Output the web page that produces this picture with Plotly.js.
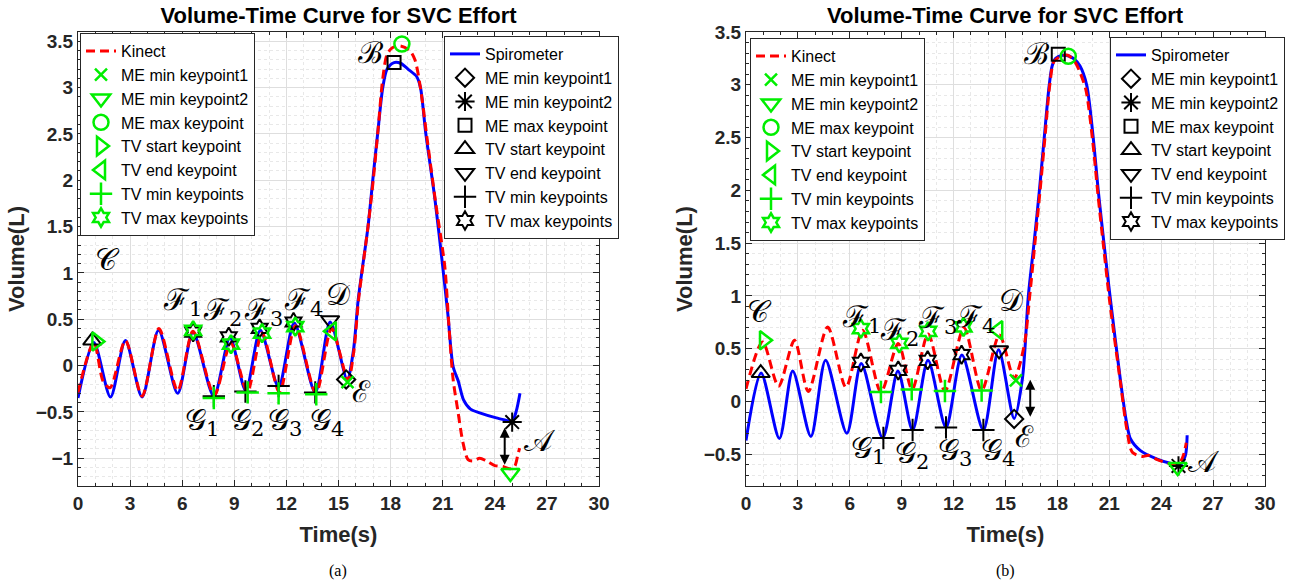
<!DOCTYPE html>
<html><head><meta charset="utf-8">
<script src="https://cdn.plot.ly/plotly-3.0.1.min.js"></script>
<style>html,body{margin:0;padding:0;background:#fff}#chart{width:1304px;height:586px}</style>
</head><body><div id="chart"></div><script>
// ---------- (a) curves ----------
const a_spiro_t = [0, 0.91, 1.87, 2.73, 3.69, 4.64, 5.74, 6.62, 7.82, 8.75, 9.66, 10.5, 11.55, 12.45, 13.66, 14.52, 15.5, 15.85, 16.14, 16.7, 17.0, 17.28, 17.55, 17.8, 18.2, 18.6, 19.0, 19.5, 19.72, 20.03, 20.55, 21.0, 21.3, 21.6, 21.9, 22.2, 22.6, 23.13, 24.09, 24.86, 25.0, 25.24, 25.45];
const a_spiro_v = [-0.35, 0.25, -0.34, 0.27, -0.34, 0.38, -0.30, 0.36, -0.33, 0.30, -0.27, 0.38, -0.23, 0.46, -0.29, 0.47, -0.15, 0.15, 0.72, 1.5, 2.05, 2.55, 3.0, 3.2, 3.27, 3.26, 3.2, 3.12, 3.0, 2.5, 1.8, 1.07, 0.55, -0.01, -0.17, -0.37, -0.47, -0.51, -0.565, -0.60, -0.61, -0.49, -0.3];
const a_kinect_t = [0, 0.91, 1.45, 1.85, 2.73, 3.69, 4.66, 5.74, 6.62, 7.85, 8.8, 9.75, 10.6, 11.6, 12.52, 13.7, 14.6, 15.55, 15.88, 16.16, 16.7, 17.0, 17.28, 17.55, 17.8, 18.1, 18.55, 19.1, 19.4, 19.7, 20.1, 20.6, 21.12, 21.35, 21.6, 21.89, 22.17, 22.46, 22.75, 23.13, 23.52, 24.0, 24.47, 24.86, 25.14, 25.33, 25.43];
const a_kinect_v = [-0.29, 0.25, -0.17, -0.24, 0.27, -0.33, 0.40, -0.27, 0.37, -0.32, 0.24, -0.28, 0.35, -0.29, 0.43, -0.30, 0.40, -0.16, 0.15, 0.72, 1.5, 2.0, 2.55, 3.1, 3.36, 3.43, 3.45, 3.4, 3.3, 3.02, 2.45, 1.75, 1.07, 0.45, -0.15, -0.51, -0.835, -1.015, -1.03, -1.0, -1.03, -1.08, -1.09, -1.115, -1.09, -0.96, -0.89];

// ---------- (a) keypoints (order = kpNames) ----------
const a_spiro_kp_t = [[15.44], [25.0], [18.2], [0.82], [14.52], [7.82, 9.64, 11.55, 13.66], [6.63, 8.68, 10.46, 12.41]];
const a_spiro_kp_v = [[-0.15], [-0.61], [3.27], [0.27], [0.49], [-0.33, -0.28, -0.22, -0.29], [0.36, 0.31, 0.40, 0.47]];
const a_kinect_kp_t = [[15.52], [24.9], [18.65], [1.06], [14.62], [7.82, 9.77, 11.55, 13.72], [6.63, 8.81, 10.6, 12.51]];
const a_kinect_kp_v = [[-0.18], [-1.16], [3.47], [0.26], [0.37], [-0.35, -0.29, -0.30, -0.31], [0.38, 0.23, 0.35, 0.42]];

// ---------- (b) curves ----------
const b_spiro_t = [0, 0.87, 1.93, 2.7, 3.75, 4.6, 5.83, 6.66, 7.9, 8.78, 9.63, 10.52, 11.56, 12.48, 13.72, 14.6, 15.5, 15.98, 16.32, 16.65, 16.96, 17.24, 17.53, 17.7, 17.9, 18.3, 18.7, 19.0, 19.3, 19.69, 20.07, 20.36, 20.69, 21.04, 21.66, 22.0, 22.23, 22.8, 23.77, 24.63, 25.1, 25.4, 25.5];
const b_spiro_v = [-0.37, 0.27, -0.35, 0.29, -0.33, 0.39, -0.30, 0.36, -0.345, 0.29, -0.27, 0.39, -0.245, 0.44, -0.27, 0.49, -0.16, 0.22, 1.0, 1.5, 2.0, 2.5, 3.0, 3.18, 3.25, 3.28, 3.27, 3.24, 3.18, 3.0, 2.5, 2.0, 1.5, 1.0, 0.18, -0.2, -0.355, -0.465, -0.545, -0.59, -0.6, -0.51, -0.32];
const b_kinect_t = [0, 0.96, 1.88, 2.8, 3.6, 4.72, 5.78, 6.74, 7.8, 8.8, 9.6, 10.53, 11.5, 12.6, 13.62, 14.65, 15.5, 16.08, 16.4, 16.7, 17.0, 17.28, 17.56, 17.8, 18.2, 18.6, 19.0, 19.3, 19.65, 20.05, 20.35, 20.68, 21.02, 21.66, 22.0, 22.33, 22.9, 23.3, 23.77, 24.6, 25.1, 25.3, 25.45];
const b_kinect_v = [0.12, 0.565, 0.145, 0.58, 0.095, 0.705, 0.135, 0.675, 0.09, 0.55, 0.115, 0.64, 0.10, 0.70, 0.105, 0.63, 0.22, 0.53, 1.0, 1.5, 2.0, 2.5, 3.0, 3.22, 3.27, 3.28, 3.22, 3.12, 2.95, 2.45, 1.95, 1.45, 0.95, 0.16, -0.25, -0.48, -0.52, -0.51, -0.55, -0.59, -0.57, -0.5, -0.39];

// ---------- (b) keypoints ----------
const b_spiro_kp_t = [[15.5], [25.0], [18.05], [0.85], [14.63], [7.94, 9.63, 11.56, 13.72], [6.64, 8.8, 10.5, 12.46]];
const b_spiro_kp_v = [[-0.165], [-0.61], [3.29], [0.27], [0.485], [-0.345, -0.27, -0.245, -0.27], [0.37, 0.295, 0.39, 0.444]];
const b_kinect_kp_t = [[15.6], [24.95], [18.63], [1.04], [14.58], [7.8, 9.58, 11.5, 13.62], [6.64, 8.86, 10.53, 12.57]];
const b_kinect_kp_v = [[0.2], [-0.62], [3.27], [0.58], [0.675], [0.09, 0.115, 0.10, 0.105], [0.69, 0.55, 0.665, 0.707]];

// ---------- names / text ----------
const kpNames = ['ME min keypoint1', 'ME min keypoint2', 'ME max keypoint', 'TV start keypoint', 'TV end keypoint', 'TV min keypoints', 'TV max keypoints'];
const chartTitle = 'Volume-Time Curve for SVC Effort';
const xTitle = 'Time(s)';
const yTitle = 'Volume(L)';
const captions = ['(a)', '(b)'];

// ---------- styling ----------
const spiroSymbols = ['diamond-open', 'asterisk-open', 'square-open', 'triangle-up-open', 'triangle-down-open', 'cross-thin-open', 'hexagram-open'];
const kinectSymbols = ['x-thin-open', 'triangle-down-open', 'circle-open', 'triangle-right-open', 'triangle-left-open', 'cross-thin-open', 'hexagram-open'];
const spiroSizes = [14, 16, 13, 16, 16, 16, 14];
const kinectSizes = [12, 16, 15, 16, 16, 16, 14];
const GREEN = '#00ee00';
const SANS = 'Liberation Sans, Arial, Helvetica, sans-serif';

function panel(xa, ya, spT, spV, knT, knV, spKT, spKV, knKT, knKV, legK, legS) {
  const tr = [];
  tr.push({type: 'scatter', mode: 'lines', x: spT, y: spV, xaxis: xa, yaxis: ya, name: 'Spirometer', legend: legS,
    line: {color: '#0000ff', width: 3, shape: 'spline', smoothing: 0.8}});
  tr.push({type: 'scatter', mode: 'lines', x: knT, y: knV, xaxis: xa, yaxis: ya, name: 'Kinect', legend: legK,
    line: {color: '#ff0000', width: 3, dash: '9px,5px', shape: 'spline', smoothing: 0.8}});
  kpNames.forEach((n, i) => tr.push({type: 'scatter', mode: 'markers', x: spKT[i], y: spKV[i], xaxis: xa, yaxis: ya, name: n, legend: legS,
    marker: {symbol: spiroSymbols[i], size: spiroSizes[i], color: '#000000', line: {color: '#000000', width: 2}}}));
  kpNames.forEach((n, i) => tr.push({type: 'scatter', mode: 'markers', x: knKT[i], y: knKV[i], xaxis: xa, yaxis: ya, name: n, legend: legK,
    marker: {symbol: kinectSymbols[i], size: kinectSizes[i], color: GREEN, line: {color: GREEN, width: 2.5}}}));
  return tr;
}

const data = [].concat(
  panel('x', 'y', a_spiro_t, a_spiro_v, a_kinect_t, a_kinect_v, a_spiro_kp_t, a_spiro_kp_v, a_kinect_kp_t, a_kinect_kp_v, 'legend', 'legend2'),
  panel('x2', 'y2', b_spiro_t, b_spiro_v, b_kinect_t, b_kinect_v, b_spiro_kp_t, b_spiro_kp_v, b_kinect_kp_t, b_kinect_kp_v, 'legend3', 'legend4')
);

// figure geometry (px)
const W = 1304, H = 586, ML = 78, MR = 39, MT = 32, MB = 100;
const PW = W - ML - MR, PH = H - MT - MB;
const px = x => (x - ML) / PW;
const py = y => (H - MB - y) / PH;

function xaxis(dom, anchor) {
  return {domain: dom, anchor: anchor, range: [0, 30], tick0: 0, dtick: 3, autorange: false,
    showline: true, linecolor: '#262626', linewidth: 1, mirror: 'allticks',
    ticks: 'inside', ticklen: 6, tickcolor: '#262626', showgrid: true, gridcolor: '#dedede', zeroline: false,
    tickfont: {family: SANS, size: 19, weight: 'bold', color: '#262626'},
    minor: {dtick: 1, ticks: 'inside', ticklen: 3, tickcolor: '#262626', showgrid: true, gridcolor: '#e8e8e8', griddash: 'dot'},
    title: {text: xTitle, font: {family: SANS, size: 22, weight: 'bold', color: '#262626'}, standoff: 13}};
}
function yaxis(range, anchor) {
  return {domain: [0, 1], anchor: anchor, range: range, tick0: 0, dtick: 0.5, autorange: false,
    showline: true, linecolor: '#262626', linewidth: 1, mirror: 'allticks',
    ticks: 'inside', ticklen: 6, tickcolor: '#262626', showgrid: true, gridcolor: '#dedede', zeroline: false,
    tickfont: {family: SANS, size: 19, weight: 'bold', color: '#262626'},
    minor: {dtick: 0.1, ticks: 'inside', ticklen: 3, tickcolor: '#262626', showgrid: true, gridcolor: '#e8e8e8', griddash: 'dot'},
    title: {text: yTitle, font: {family: SANS, size: 22, weight: 'bold', color: '#262626'}, standoff: 4}};
}
function legend(xp, yp) {
  return {x: px(xp), y: py(yp), xanchor: 'left', yanchor: 'top', bgcolor: '#ffffff', bordercolor: '#262626', borderwidth: 1,
    font: {family: SANS, size: 16, color: '#000000'}, tracegroupgap: 0, itemwidth: 30, traceorder: 'normal'};
}

// calligraphic labels
const cA = '\u{1D49C}', cB = '\u212C', cC = '\u{1D49E}', cD = '\u{1D49F}', cE = '\u2130', cF = '\u2131', cG = '\u{1D4A2}';
const labA = [[cB, 16.87, 3.38], [cC, 1.7, 1.14], [cF + '<sub>1</sub>', 6.0, 0.69], [cF + '<sub>2</sub>', 8.3, 0.58], [cF + '<sub>3</sub>', 10.67, 0.58],
  [cF + '<sub>4</sub>', 12.97, 0.69], [cD, 14.97, 0.77], [cG + '<sub>1</sub>', 7.15, -0.6], [cG + '<sub>2</sub>', 9.74, -0.6], [cG + '<sub>3</sub>', 11.93, -0.6],
  [cG + '<sub>4</sub>', 14.34, -0.6], [cE, 16.35, -0.28], [cA, 26.6, -0.81]];
const labB = [[cB, 16.8, 3.30], [cC, 0.8, 0.85], [cF + '<sub>1</sub>', 6.65, 0.79], [cF + '<sub>2</sub>', 8.85, 0.66], [cF + '<sub>3</sub>', 11.05, 0.78],
  [cF + '<sub>4</sub>', 13.25, 0.79], [cD, 15.3, 0.955], [cG + '<sub>1</sub>', 7.05, -0.45], [cG + '<sub>2</sub>', 9.6, -0.5], [cG + '<sub>3</sub>', 12.1, -0.47],
  [cG + '<sub>4</sub>', 14.55, -0.47], [cE, 16.1, -0.33], [cA, 26.5, -0.57]];
const annotations = [];
[[labA, 'x', 'y'], [labB, 'x2', 'y2']].forEach(([labs, xr, yr]) => labs.forEach(l => annotations.push({
  text: l[0], x: l[1], y: l[2], xref: xr, yref: yr, showarrow: false, xanchor: 'center', yanchor: 'middle',
  font: {family: 'DejaVu Serif, Liberation Serif, serif', size: 30, color: '#000'}})));
// double-headed arrows between Kinect and spirometer ME keypoints
annotations.push({x: a_spiro_kp_t[1][0] - 0.43, y: a_kinect_kp_v[1][0] + 0.09, ax: a_spiro_kp_t[1][0] - 0.43, ay: a_spiro_kp_v[1][0] - 0.045,
  xref: 'x', yref: 'y', axref: 'x', ayref: 'y', text: '', showarrow: true, arrowside: 'end+start', arrowhead: 2, arrowsize: 1, arrowwidth: 2, arrowcolor: '#000', standoff: 0, startstandoff: 0});
annotations.push({x: b_kinect_kp_t[0][0] + 0.83, y: b_spiro_kp_v[0][0] + 0.02, ax: b_kinect_kp_t[0][0] + 0.83, ay: b_kinect_kp_v[0][0] + 0.02,
  xref: 'x2', yref: 'y2', axref: 'x2', ayref: 'y2', text: '', showarrow: true, arrowside: 'end+start', arrowhead: 2, arrowsize: 1, arrowwidth: 2, arrowcolor: '#000', standoff: 0, startstandoff: 0});
// second panel title and captions
annotations.push({text: chartTitle, xref: 'paper', yref: 'paper', x: px(1005.5), y: py(15), xanchor: 'center', yanchor: 'middle', showarrow: false,
  font: {family: SANS, size: 22, weight: 'bold', color: '#000'}});
annotations.push({text: captions[0], xref: 'paper', yref: 'paper', x: px(338), y: py(571), xanchor: 'center', yanchor: 'middle', showarrow: false,
  font: {family: 'Liberation Serif, Times New Roman, serif', size: 16, color: '#000'}});
annotations.push({text: captions[1], xref: 'paper', yref: 'paper', x: px(1005.5), y: py(571), xanchor: 'center', yanchor: 'middle', showarrow: false,
  font: {family: 'Liberation Serif, Times New Roman, serif', size: 16, color: '#000'}});

const layout = {
  width: W, height: H, margin: {l: ML, r: MR, t: MT, b: MB, autoexpand: false},
  paper_bgcolor: '#ffffff', plot_bgcolor: '#ffffff', hovermode: false,
  title: {text: chartTitle, xref: 'paper', x: px(338.5), xanchor: 'center', yref: 'container', y: 1 - 15 / H, yanchor: 'middle',
    font: {family: SANS, size: 22, weight: 'bold', color: '#000'}},
  xaxis: xaxis([0, px(599)], 'y'),
  yaxis: yaxis([-1.3, 3.6], 'x'),
  xaxis2: xaxis([px(746), 1], 'y2'),
  yaxis2: yaxis([-0.8, 3.5], 'x2'),
  legend: legend(80, 33),
  legend2: legend(444, 36),
  legend3: legend(750, 38),
  legend4: legend(1110, 37),
  annotations: annotations
};

Plotly.newPlot('chart', data, layout, {staticPlot: true, displayModeBar: false});
</script></body></html>
